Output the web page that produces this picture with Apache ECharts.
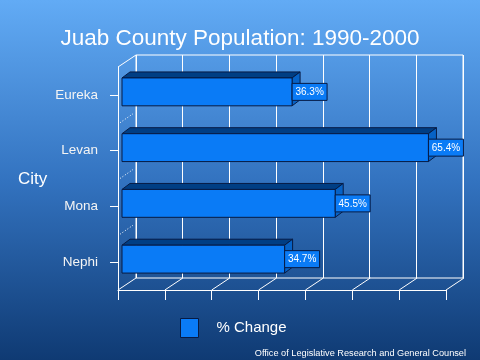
<!DOCTYPE html>
<html>
<head>
<meta charset="utf-8">
<script src="https://cdn.jsdelivr.net/npm/echarts@6/dist/echarts.min.js"></script>
<style>
html,body{margin:0;padding:0;}
#chart{width:480px;height:360px;}
</style>
</head>
<body>
<div id="chart"></div>
<script>
const categories = ['Eureka', 'Levan', 'Mona', 'Nephi'];
const pctChange = [36.3, 65.4, 45.5, 34.7];
const seriesName = '% Change';
const axisMin = 0;
const axisMax = 70;
const axisInterval = 10;
const titleText = 'Juab County Population: 1990-2000';
const axisTitle = 'City';
const footerText = 'Office of Legislative Research and General Counsel';

const FONT = '"Liberation Sans", Arial, sans-serif';
const FRONT = '#0A7BF6', TOP = '#003E84', SIDE = '#0662C6', EDGE = '#071B44';
const DX = 8, DY = 6;         // bar depth
const WDX = 18, WDY = 12;     // wall depth

const tickValues = [];
for (let v = axisMin; v <= axisMax; v += axisInterval) tickValues.push(v);

function renderBar(params, api) {
  const cat = api.value(1), val = api.value(0);
  const s = api.coord([axisMin, cat]);
  const e = api.coord([val, cat]);
  const band = api.size([0, 1])[1];
  const h = band * 0.5;
  const x0 = s[0], x1 = e[0], yT = s[1] - h / 2, yB = s[1] + h / 2;
  const lw = 1;
  return {
    type: 'group',
    children: [
      { type: 'polygon', shape: { points: [[x0, yT], [x0 + DX, yT - DY], [x1 + DX, yT - DY], [x1, yT]] },
        style: { fill: TOP, stroke: EDGE, lineWidth: lw } },
      { type: 'polygon', shape: { points: [[x1, yT], [x1 + DX, yT - DY], [x1 + DX, yB - DY], [x1, yB]] },
        style: { fill: SIDE, stroke: EDGE, lineWidth: lw } },
      { type: 'rect', shape: { x: x0, y: yT, width: x1 - x0, height: h },
        style: { fill: FRONT, stroke: EDGE, lineWidth: lw } },
      { type: 'rect', shape: { x: x1, y: s[1] - 8.5, width: 35, height: 17 },
        style: { fill: FRONT, stroke: EDGE, lineWidth: 1 } },
      { type: 'text', style: { x: x1 + 17.5, y: s[1] + 0.5, text: val.toFixed(1) + '%', fill: '#ffffff',
        font: '10px ' + FONT, align: 'center', verticalAlign: 'middle' } }
    ]
  };
}

function renderFrame(params, api) {
  const cs = params.coordSys;
  const v = api.value(0);
  const px = api.coord([v, 0])[0];
  const bottom = cs.y + cs.height;
  const children = [
    { type: 'line', shape: { x1: px, y1: bottom, x2: px + WDX, y2: bottom - WDY },
      style: { stroke: '#ffffff', lineWidth: 1 } }
  ];
  if (params.dataIndex === 0) {
    children.push({ type: 'line', shape: { x1: cs.x, y1: cs.y, x2: cs.x + WDX, y2: cs.y - WDY },
      style: { stroke: '#ffffff', lineWidth: 1 } });
    const n = categories.length;
    for (let i = 1; i < n; i++) {
      const y = cs.y + i * cs.height / n;
      children.push({ type: 'line', shape: { x1: cs.x + 2, y1: y, x2: cs.x + 15, y2: y - 9 },
        style: { stroke: '#ffffff', lineWidth: 1, lineDash: [1, 2] } });
    }
  }
  return { type: 'group', children };
}

const chart = echarts.init(document.getElementById('chart'), null, { renderer: 'canvas' });
chart.setOption({
  animation: false,
  backgroundColor: {
    type: 'linear', x: 0, y: 0, x2: 0, y2: 1,
    colorStops: [
      { offset: 0, color: '#62ABF5' },
      { offset: 0.5, color: '#3373C0' },
      { offset: 1, color: '#0F3A73' }
    ]
  },
  title: {
    text: titleText, left: 'center', top: 27, padding: 0,
    textStyle: { color: '#ffffff', fontSize: 22.5, fontWeight: 'normal', fontFamily: FONT }
  },
  legend: {
    left: 180, top: 318, itemWidth: 18, itemHeight: 19, padding: 0,
    data: [{ name: seriesName, icon: 'rect',
      itemStyle: { color: FRONT, borderColor: EDGE, borderWidth: 1 } }],
    textStyle: { color: '#ffffff', fontSize: 15, fontFamily: FONT, padding: [0, 0, 0, 13] }
  },
  graphic: [
    { type: 'text', left: 18, top: 171,
      style: { text: axisTitle, fill: '#ffffff', font: '17px ' + FONT } },
    { type: 'text', right: 14, top: 349,
      style: { text: footerText, fill: '#ffffff', font: '9.2px ' + FONT } }
  ],
  grid: [
    { left: 122, right: 30, top: 64, bottom: 73 },
    { left: 118, right: 34, top: 67, bottom: 70 },
    { left: 136, right: 17, top: 55, bottom: 82, show: true, borderColor: '#ffffff', borderWidth: 1,
      backgroundColor: 'transparent', z: 0 }
  ],
  xAxis: [
    { gridIndex: 0, type: 'value', min: axisMin, max: axisMax, interval: axisInterval, show: false },
    { gridIndex: 1, type: 'value', min: axisMin, max: axisMax, interval: axisInterval,
      axisLine: { show: true, lineStyle: { color: '#ffffff', width: 1 } },
      axisTick: { show: true, length: 10, lineStyle: { color: '#ffffff', width: 1 } },
      axisLabel: { show: false }, splitLine: { show: false } },
    { gridIndex: 2, type: 'value', min: axisMin, max: axisMax, interval: axisInterval,
      axisLine: { show: false }, axisTick: { show: false }, axisLabel: { show: false },
      splitLine: { show: true, lineStyle: { color: '#ffffff', width: 1 } } }
  ],
  yAxis: [
    { gridIndex: 0, type: 'category', data: categories, inverse: true, show: false },
    { gridIndex: 1, type: 'category', data: categories, inverse: true,
      axisLine: { show: true, lineStyle: { color: '#ffffff', width: 1 } },
      axisTick: { show: true, alignWithLabel: true, length: 8, lineStyle: { color: '#ffffff' } },
      axisLabel: { color: '#f4f4f4', fontSize: 13.5, fontFamily: FONT, margin: 20 },
      splitLine: { show: false } },
    { gridIndex: 2, type: 'category', data: categories, inverse: true, show: false }
  ],
  series: [
    { type: 'custom', name: 'frame', xAxisIndex: 1, yAxisIndex: 1, silent: true, z: 1,
      renderItem: renderFrame, data: tickValues.map(v => [v, 0]) },
    { type: 'custom', name: seriesName, xAxisIndex: 0, yAxisIndex: 0, z: 3,
      itemStyle: { color: FRONT, borderColor: EDGE, borderWidth: 1 },
      renderItem: renderBar, data: pctChange.map((v, i) => [v, i]),
      encode: { x: 0, y: 1 } }
  ]
});
</script>
</body>
</html>
